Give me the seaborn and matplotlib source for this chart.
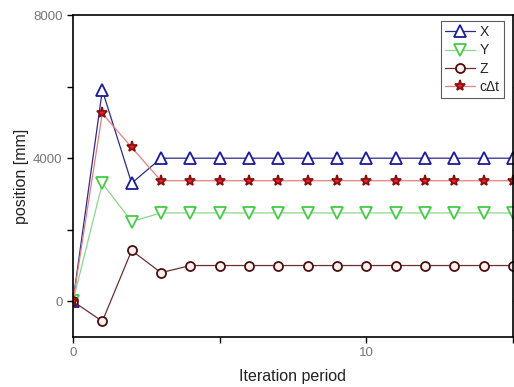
import numpy as np
import pandas as pd
import matplotlib
matplotlib.use("Agg")
import matplotlib.pyplot as plt
import seaborn as sns

# values
iteration = list(range(16))
pos_x = [0, 5900, 3300] + [4000] * 13
pos_y = [0, 3300, 2230] + [2470] * 13
pos_z = [0, -560, 1420, 800] + [1000] * 12
c_dt = [0, 5250, 4300] + [3370] * 13

series_names = ["X", "Y", "Z", "c\u0394t"]

df = pd.DataFrame({"iteration": iteration, "X": pos_x, "Y": pos_y,
                   "Z": pos_z, "c\u0394t": c_dt})

sns.set_style("white")
plt.rcParams["font.family"] = ["Liberation Sans", "DejaVu Sans"]

fig = plt.figure(figsize=(5.14, 3.87), dpi=100)
ax = fig.add_axes([0.142, 0.129, 0.856, 0.832])

styles = {
    "X": dict(color="#2a2a8a", marker="^", mec="#1a1a9a", mfc="white", ms=8),
    "Y": dict(color="#8ad88a", marker="v", mec="#44cc44", mfc="white", ms=8),
    "Z": dict(color="#6a3030", marker="o", mec="#4a1010", mfc="#fff0f0", ms=6.5),
    "c\u0394t": dict(color="#e08080", marker="*", mec="#8a1010", mfc="#ee2020", ms=8),
}

for name in series_names:
    st = styles[name]
    sns.lineplot(data=df, x="iteration", y=name, ax=ax, label=name,
                 color=st["color"], marker=st["marker"], markersize=st["ms"],
                 markeredgecolor=st["mec"], markerfacecolor=st["mfc"],
                 markeredgewidth=1.3, linewidth=0.9)

ax.set_xlim(0, 15)
ax.set_ylim(-1000, 8000)
ax.set_xticks([0, 5, 10, 15])
ax.set_xticklabels(["0", "", "10", ""])
ax.set_yticks([0, 2000, 4000, 6000, 8000])
ax.set_yticklabels(["0", "", "4000", "", "8000"])

for side in ["left", "bottom", "top", "right"]:
    ax.spines[side].set_visible(True)
    ax.spines[side].set_color("black")
    ax.spines[side].set_linewidth(1.2)

ax.tick_params(axis="both", direction="out", length=4, width=1,
               colors="black", labelcolor="#777777", labelsize=9.5)
ax.tick_params(axis="y", right=True, left=True)
ax.tick_params(axis="x", bottom=True)

ax.set_xlabel("Iteration period", fontsize=11.5, color="#222222", labelpad=7)
ax.set_ylabel("position [mm]", fontsize=11.5, color="#222222", labelpad=3)

leg = ax.legend(loc="upper right", bbox_to_anchor=(0.985, 0.99), frameon=True,
                fancybox=False, fontsize=10, handlelength=2.2,
                handletextpad=0.3, borderpad=0.3, labelspacing=0.3,
                borderaxespad=0.2)
leg.get_frame().set_edgecolor("#333333")
leg.get_frame().set_linewidth(0.8)

fig.savefig("out.png", dpi=100)
